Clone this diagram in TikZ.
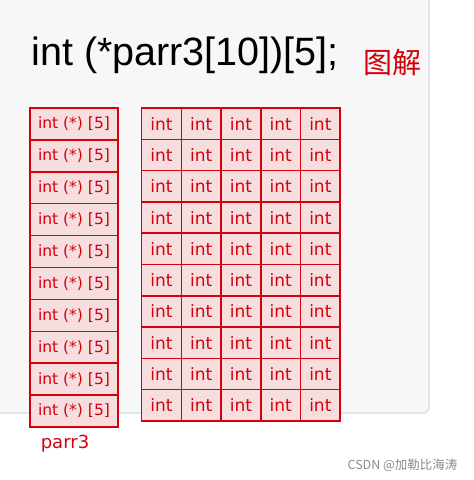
\documentclass[tikz,border=0pt]{standalone}
\usepackage{fontspec}
\setmainfont{Liberation Sans}
\newfontfamily\handfont{DejaVu Sans}
\newfontfamily\cjkfont{Noto Sans CJK SC}
\definecolor{inkred}{HTML}{D5000B}
\definecolor{boxpink}{HTML}{F6DEDF}
\definecolor{panelgray}{HTML}{F7F7F7}
\definecolor{panelrim}{HTML}{E3E6E9}
\definecolor{markgray}{HTML}{8A8A8A}
\tikzset{
  ptrbox/.style={
    draw=inkred, fill=boxpink, line width=1.5pt, inner sep=0pt,
    minimum width=88pt, minimum height=31.9pt,
    text=inkred, font=\handfont\fontsize{15.5}{16}\selectfont
  },
  intbox/.style={
    draw=inkred, fill=boxpink, line width=1.5pt, inner sep=0pt,
    minimum width=39.7pt, minimum height=31.3pt,
    text=inkred, font=\handfont\fontsize{17}{17}\selectfont
  }
}

\begin{document}
\begin{tikzpicture}[x=1pt,y=-1pt]
  \useasboundingbox (0,0) rectangle (474,480);
  % panel behind the code
  \filldraw[fill=panelgray,draw=panelrim,line width=2pt,rounded corners=6pt]
    (-10,-10) rectangle (429,413);

  \node[anchor=base west,font=\fontsize{39.5}{40}\selectfont] (decl) at (28,65)
    {int (*parr3[10])[5];};
  \node[text=inkred,font=\cjkfont\fontsize{29}{29}\selectfont] (tujie) at (392,63) {图解};

  % the 10 pointers
  \foreach \i in {0,...,9}
    \node[ptrbox] (p\i) at (74,{123.95+31.9*\i}) {int (*) [5]};
  \node[text=inkred,font=\handfont\fontsize{18}{18}\selectfont] (name) at (65,444) {parr3};

  % the 10 x 5 ints
  \foreach \i in {0,...,9}
    \foreach \j in {0,...,4}
      \node[intbox] (c\i\j) at ({161.55+39.7*\j},{123.65+31.3*\i}) {int};

  \node[anchor=east,text=markgray,font=\cjkfont\fontsize{12.5}{13}\selectfont] (mark) at (461,465)
    {CSDN @加勒比海涛};
\end{tikzpicture}
\end{document}
